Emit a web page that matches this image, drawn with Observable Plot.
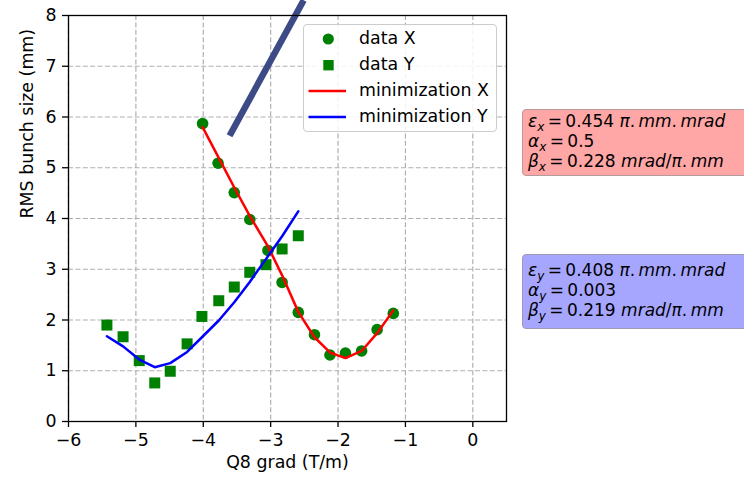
<!DOCTYPE html>
<html><head><meta charset="utf-8">
<script src="https://cdn.jsdelivr.net/npm/d3@7"></script>
<script src="https://cdn.jsdelivr.net/npm/@observablehq/plot@0.6"></script>
<style>
body{margin:0;background:#fff;font-family:"DejaVu Sans",sans-serif;}
#wrap{position:relative;width:744px;height:484px;overflow:hidden;}
#wrap svg{display:block;}
.legend{position:absolute;left:303px;top:24px;width:194px;height:108px;background:rgba(255,255,255,0.85);border:1px solid #cccccc;border-radius:4px;box-sizing:border-box;font-size:17.4px;color:#000;}
.row{position:absolute;left:0;height:22px;line-height:22px;white-space:nowrap;}
.row svg{position:absolute;left:4px;top:0;}
.row span{position:absolute;left:55px;top:-1px;}
.ann{position:absolute;box-sizing:border-box;border-radius:4px;font-size:17px;color:#000;padding:0 0 0 5px;white-space:nowrap;}
.ann div{height:20px;line-height:20px;}
.ann i{font-style:italic;}
.ann .s{font-size:12px;position:relative;top:4px;font-style:italic;}
.red{left:522px;top:109px;width:226px;height:67px;background:#ffa6a6;border:1px solid #b59b9b;padding-top:1px;}
.blue{left:522px;top:254px;width:226px;height:75px;background:#a6a6ff;border:1px solid #9b9bb5;padding-top:5px;}
</style>
</head><body>
<div id="wrap"></div>
<script>
// ---- data ----
const gradX = [-4.01,-3.78,-3.54,-3.31,-3.04,-2.83,-2.59,-2.35,-2.12,-1.89,-1.65,-1.42,-1.18];
const sizeX = [5.87,5.09,4.51,3.98,3.37,2.74,2.15,1.71,1.31,1.35,1.39,1.81,2.13];
const fitX  = [5.80,5.22,4.61,4.05,3.45,2.88,2.16,1.66,1.36,1.25,1.39,1.74,2.19];
const gradY = [-5.43,-5.19,-4.95,-4.72,-4.49,-4.24,-4.02,-3.77,-3.54,-3.31,-3.07,-2.83,-2.59];
const sizeY = [1.90,1.67,1.20,0.76,0.99,1.53,2.07,2.38,2.65,2.94,3.09,3.40,3.66];
const fitY  = [1.68,1.48,1.22,1.07,1.15,1.37,1.66,1.99,2.35,2.75,3.20,3.65,4.14];
const strayX = [-3.61,-2.51];
const strayY = [5.63,8.30];
const xTicks = [-6,-5,-4,-3,-2,-1,0];
const yTicks = [0,1,2,3,4,5,6,7,8];
const xLabel = "Q8 grad (T/m)";
const yLabel = "RMS bunch size (mm)";
const legendLabels = ["data X","data Y","minimization X","minimization Y"];

const ptsX = gradX.map((g,i)=>({g, v:sizeX[i], f:fitX[i]}));
const ptsY = gradY.map((g,i)=>({g, v:sizeY[i], f:fitY[i]}));
const stray = strayX.map((g,i)=>({g, v:strayY[i]}));
const fmt = d3.format("d");
const FS = 17.4;

const chart = Plot.plot({
  width:744, height:484,
  marginLeft:68, marginRight:238, marginTop:15, marginBottom:63,
  style:{fontFamily:"DejaVu Sans, sans-serif", fontSize:FS+"px", color:"#000", background:"#fff"},
  x:{domain:[-6,0.5], label:null},
  y:{domain:[0,8], label:null},
  marks:[
    Plot.gridX(xTicks,{stroke:"#b0b0b0", strokeOpacity:1, strokeWidth:1.2, strokeDasharray:"5,2.4"}),
    Plot.gridY(yTicks,{stroke:"#b0b0b0", strokeOpacity:1, strokeWidth:1.2, strokeDasharray:"5,2.4"}),
    Plot.dot(ptsX,{x:"g", y:"v", r:5.8, fill:"#008000", symbol:"circle"}),
    Plot.dot(ptsY,{x:"g", y:"v", r:6.2, fill:"#008000", symbol:"square"}),
    Plot.line(ptsX,{x:"g", y:"f", stroke:"#ff0000", strokeWidth:2.5}),
    Plot.line(ptsY,{x:"g", y:"f", stroke:"#0000ff", strokeWidth:2.5}),
    Plot.line(stray,{x:"g", y:"v", stroke:"#3c4a86", strokeWidth:6.5, strokeLinecap:"butt"}),
    Plot.frame({stroke:"#000", strokeWidth:1.3}),
    Plot.axisX(xTicks,{tickFormat:fmt, tickSize:6, tickPadding:6, fontSize:FS, label:null, strokeWidth:1.3}),
    Plot.axisY(yTicks,{tickFormat:fmt, tickSize:6, tickPadding:6, fontSize:FS, label:null, strokeWidth:1.3}),
    Plot.text([xLabel],{frameAnchor:"bottom", dy:46, fontSize:FS}),
    Plot.text([yLabel],{frameAnchor:"left", dx:-41, rotate:-90, fontSize:FS})
  ]
});
const wrap = document.getElementById("wrap");
wrap.appendChild(chart);

// legend
const lg = document.createElement("div");
lg.className = "legend";
const rowTops = [3, 29, 54.7, 80.7];
legendLabels.forEach((lab,i)=>{
  const r = document.createElement("div");
  r.className = "row"; r.style.top = rowTops[i]+"px";
  let sw;
  if(i===0) sw = '<svg width="44" height="22"><circle cx="20.3" cy="11" r="5.6" fill="#008000"/></svg>';
  else if(i===1) sw = '<svg width="44" height="22"><rect x="15.3" y="6" width="10.4" height="10.4" fill="#008000"/></svg>';
  else sw = '<svg width="44" height="22"><line x1="0.5" x2="38" y1="11" y2="11" stroke="'+(i===2?"#ff0000":"#0000ff")+'" stroke-width="2.6"/></svg>';
  r.innerHTML = sw + '<span>'+lab+'</span>';
  lg.appendChild(r);
});
wrap.appendChild(lg);

// annotation boxes
const annX = {eps:"0.454", alpha:"0.5", beta:"0.228", sub:"x"};
const annY = {eps:"0.408", alpha:"0.003", beta:"0.219", sub:"y"};
function ann(cls, a){
  const d = document.createElement("div");
  d.className = "ann "+cls;
  d.innerHTML =
    '<div><i>ε</i><span class="s">'+a.sub+'</span>\u2009=\u2009'+a.eps+' <i>π</i>.\u2009<i>mm</i>.\u2009<i>mrad</i></div>'+
    '<div><i>α</i><span class="s">'+a.sub+'</span>\u2009=\u2009'+a.alpha+'</div>'+
    '<div><i>β</i><span class="s">'+a.sub+'</span>\u2009=\u2009'+a.beta+' <i>mrad</i>/<i>π</i>.\u2009<i>mm</i></div>';
  wrap.appendChild(d);
}
ann("red", annX);
ann("blue", annY);
</script>
</body></html>
